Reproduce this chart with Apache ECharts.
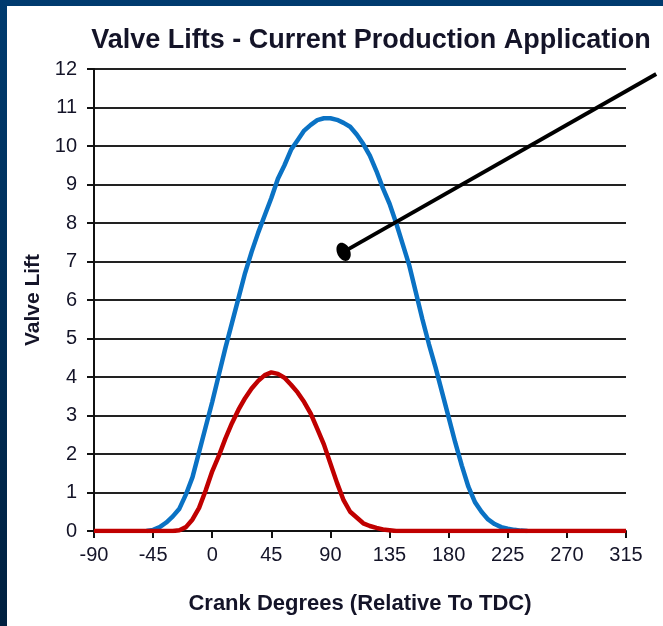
<!DOCTYPE html>
<html>
<head>
<meta charset="utf-8">
<script src="https://cdn.jsdelivr.net/npm/echarts@6/dist/echarts.min.js"></script>
<style>
  html, body { margin: 0; padding: 0; }
  body {
    width: 663px; height: 626px; overflow: hidden;
    background: linear-gradient(#003b6f, #00203f);
    position: relative;
  }
  #chart {
    position: absolute; left: 7px; top: 6px; right: 0; bottom: 0;
    background: #ffffff;
  }
</style>
</head>
<body>
<div id="chart"></div>
<script>
const titleText = "Valve Lifts - Current Production Application";
const xName = "Crank Degrees (Relative To TDC)";
const yName = "Valve Lift";

// crank angle (deg) and valve lift
const blueDeg = [-50, -45, -40, -35, -30, -25, -20, -15, -10, -5, 0, 5, 10, 15, 20, 25, 30, 35, 40, 45,
  50, 55, 60, 65, 70, 75, 80, 85, 90, 95, 100, 105, 110, 115, 120, 125, 130, 135, 140, 145,
  150, 155, 160, 165, 170, 175, 180, 185, 190, 195, 200, 205, 210, 215, 220, 225, 230, 235, 240];
const blueLift = [0, 0.03, 0.1, 0.22, 0.38, 0.58, 0.95, 1.4, 2.05, 2.7, 3.35, 4.05, 4.75, 5.4, 6.05, 6.7, 7.25, 7.75, 8.2, 8.65,
  9.15, 9.5, 9.9, 10.15, 10.4, 10.55, 10.67, 10.72, 10.72, 10.68, 10.6, 10.5, 10.3, 10.05, 9.75, 9.35, 8.9, 8.5, 8.0, 7.45,
  6.9, 6.2, 5.5, 4.85, 4.25, 3.6, 2.95, 2.3, 1.7, 1.15, 0.75, 0.5, 0.3, 0.18, 0.1, 0.06, 0.03, 0.01, 0];

const redDeg = [-90, -30, -25, -20, -15, -10, -5, 0, 5, 10, 15, 20, 25, 30, 35, 40, 45, 50, 55, 60,
  65, 70, 75, 80, 85, 90, 95, 100, 105, 110, 115, 120, 125, 130, 135, 140, 315];
const redLift = [0, 0, 0.02, 0.1, 0.3, 0.6, 1.05, 1.55, 1.95, 2.4, 2.8, 3.15, 3.45, 3.7, 3.9, 4.05, 4.12, 4.08, 3.98, 3.8,
  3.6, 3.35, 3.05, 2.65, 2.25, 1.75, 1.25, 0.8, 0.5, 0.35, 0.2, 0.13, 0.08, 0.04, 0.02, 0, 0];

const xTicks = [-90, -45, 0, 45, 90, 135, 180, 225, 270, 315];
const yTicks = [0, 1, 2, 3, 4, 5, 6, 7, 8, 9, 10, 11, 12];

// pointer annotation: tip (ellipse) and tail, in data units
const pointerTip = [100, 7.25];
const pointerTail = [338, 11.87];

const font = '"Liberation Sans Narrow", "Arial Narrow", "Liberation Sans", Arial, sans-serif';
const ink = "#141428";

const chart = echarts.init(document.getElementById("chart"));

const zip = (xs, ys) => xs.map((x, i) => [x, ys[i]]);

chart.setOption({
  animation: false,
  title: {
    text: titleText,
    left: 359, top: 16, textAlign: "center",
    textStyle: { fontFamily: font, fontSize: 27, fontWeight: "bold", color: ink }
  },
  grid: { left: 87, right: 37, top: 63, bottom: 95, containLabel: false },
  xAxis: {
    type: "value",
    min: xTicks[0], max: xTicks[xTicks.length - 1], interval: 45,
    name: xName, nameLocation: "middle", nameGap: 62,
    nameTextStyle: { fontFamily: font, fontSize: 22, fontWeight: "bold", color: ink },
    axisLine: { show: true, onZero: false, lineStyle: { color: "#111", width: 2 } },
    axisTick: { show: true, length: 7, lineStyle: { color: "#111", width: 2 } },
    axisLabel: { fontFamily: font, fontSize: 20, color: ink, margin: 14 },
    splitLine: { show: false }
  },
  yAxis: {
    type: "value",
    min: yTicks[0], max: yTicks[yTicks.length - 1], interval: 1,
    name: yName, nameLocation: "middle", nameGap: 50, nameRotate: 90,
    nameTextStyle: { fontFamily: font, fontSize: 21, fontWeight: "bold", color: ink },
    axisLine: { show: true, onZero: false, lineStyle: { color: "#111", width: 2 } },
    axisTick: { show: true, length: 7, lineStyle: { color: "#111", width: 2 } },
    axisLabel: { fontFamily: font, fontSize: 20, color: ink, margin: 17 },
    splitLine: { show: true, lineStyle: { color: "#222", width: 2 } }
  },
  series: [
    {
      name: "Blue", type: "line", data: zip(blueDeg, blueLift),
      showSymbol: false, smooth: false,
      lineStyle: { color: "#0a72c4", width: 4.5 }, z: 2
    },
    {
      name: "Red", type: "line", data: zip(redDeg, redLift),
      showSymbol: false, smooth: false,
      lineStyle: { color: "#c00000", width: 4.5 }, z: 3
    }
  ]
});

function drawPointer() {
  const tip = chart.convertToPixel({ gridIndex: 0 }, pointerTip);
  const tail = chart.convertToPixel({ gridIndex: 0 }, pointerTail);
  chart.setOption({
    graphic: [
      {
        type: "line", z: 100,
        shape: { x1: tip[0], y1: tip[1], x2: tail[0], y2: tail[1] },
        style: { stroke: "#000", lineWidth: 4 }
      },
      {
        type: "ellipse", z: 101,
        x: tip[0], y: tip[1], rotation: 0.45,
        shape: { cx: 0, cy: 0, rx: 6.5, ry: 9.5 },
        style: { fill: "#000" }
      }
    ]
  });
}
drawPointer();
</script>
</body>
</html>
